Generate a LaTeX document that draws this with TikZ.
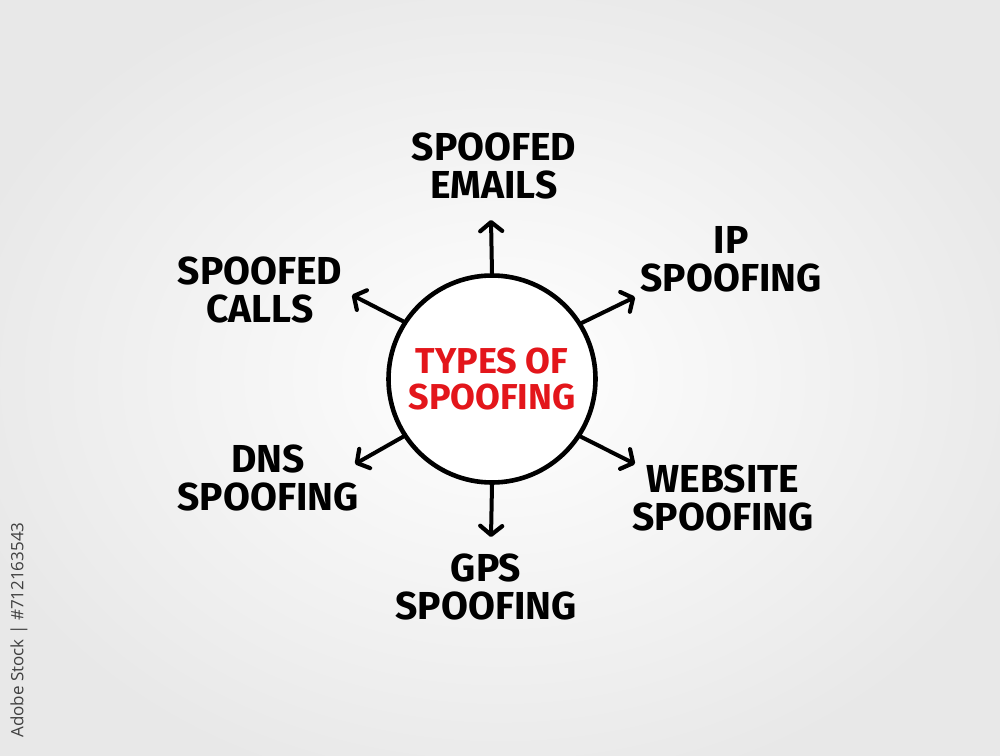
\documentclass[tikz,border=0pt]{standalone}
\usepackage{fontspec}
\setmainfont{Fira Sans}
\newfontfamily\wmfont{Open Sans}
\usetikzlibrary{arrows.meta}
\definecolor{hubred}{HTML}{E3161B}
\definecolor{wmgray}{HTML}{404040}
\tikzset{
  lbl/.style={align=center, font=\fontsize{39}{38}\selectfont\bfseries, text=black, inner sep=0pt},
  arr/.style={line width=4pt, line cap=round, -{Straight Barb[length=9pt,width=22pt,line width=4.2pt,round]}},
  hub/.style={circle, draw=black, line width=4.6pt, fill=white, minimum size=207pt, inner sep=0pt,
              align=center, font=\fontsize{36}{36}\selectfont\bfseries, text=hubred}
}
\begin{document}
\begin{tikzpicture}[x=1pt,y=-1pt]
\useasboundingbox (0,0) rectangle (1000,755);
\shade[inner color=white, outer color=black!9] (-60,-50) rectangle (1060,805);
\coordinate (eUp) at (491,220);
\coordinate (eUL) at (352,295);
\coordinate (eUR) at (635,297);
\coordinate (eLL) at (355,464);
\coordinate (eLR) at (635,464);
\coordinate (eDn) at (491,537);
\node[hub] (c) at (492,379) {TYPES OF\\SPOOFING};
\draw[arr] (c.90) -- (eUp);
\draw[arr] (c.147) -- (eUL);
\draw[arr] (c.32) -- (eUR);
\draw[arr] (c.213) -- (eLL);
\draw[arr] (c.-33) -- (eLR);
\draw[arr] (c.-90) -- (eDn);
\node[lbl] (em) at (494,166) {SPOOFED\\EMAILS};
\node[lbl] (ip) at (731,259) {IP\\SPOOFING};
\node[lbl] (ca) at (260,290) {SPOOFED\\CALLS};
\node[lbl] (dn) at (268,478) {DNS\\SPOOFING};
\node[lbl] (we) at (723,498) {WEBSITE\\SPOOFING};
\node[lbl] (gp) at (486,587) {GPS\\SPOOFING};
\node[rotate=90, text=wmgray, font=\wmfont\fontsize{17}{17}\selectfont, inner sep=0pt] (wm) at (19,630) {Adobe Stock | \#712163543};
\end{tikzpicture}
\end{document}
